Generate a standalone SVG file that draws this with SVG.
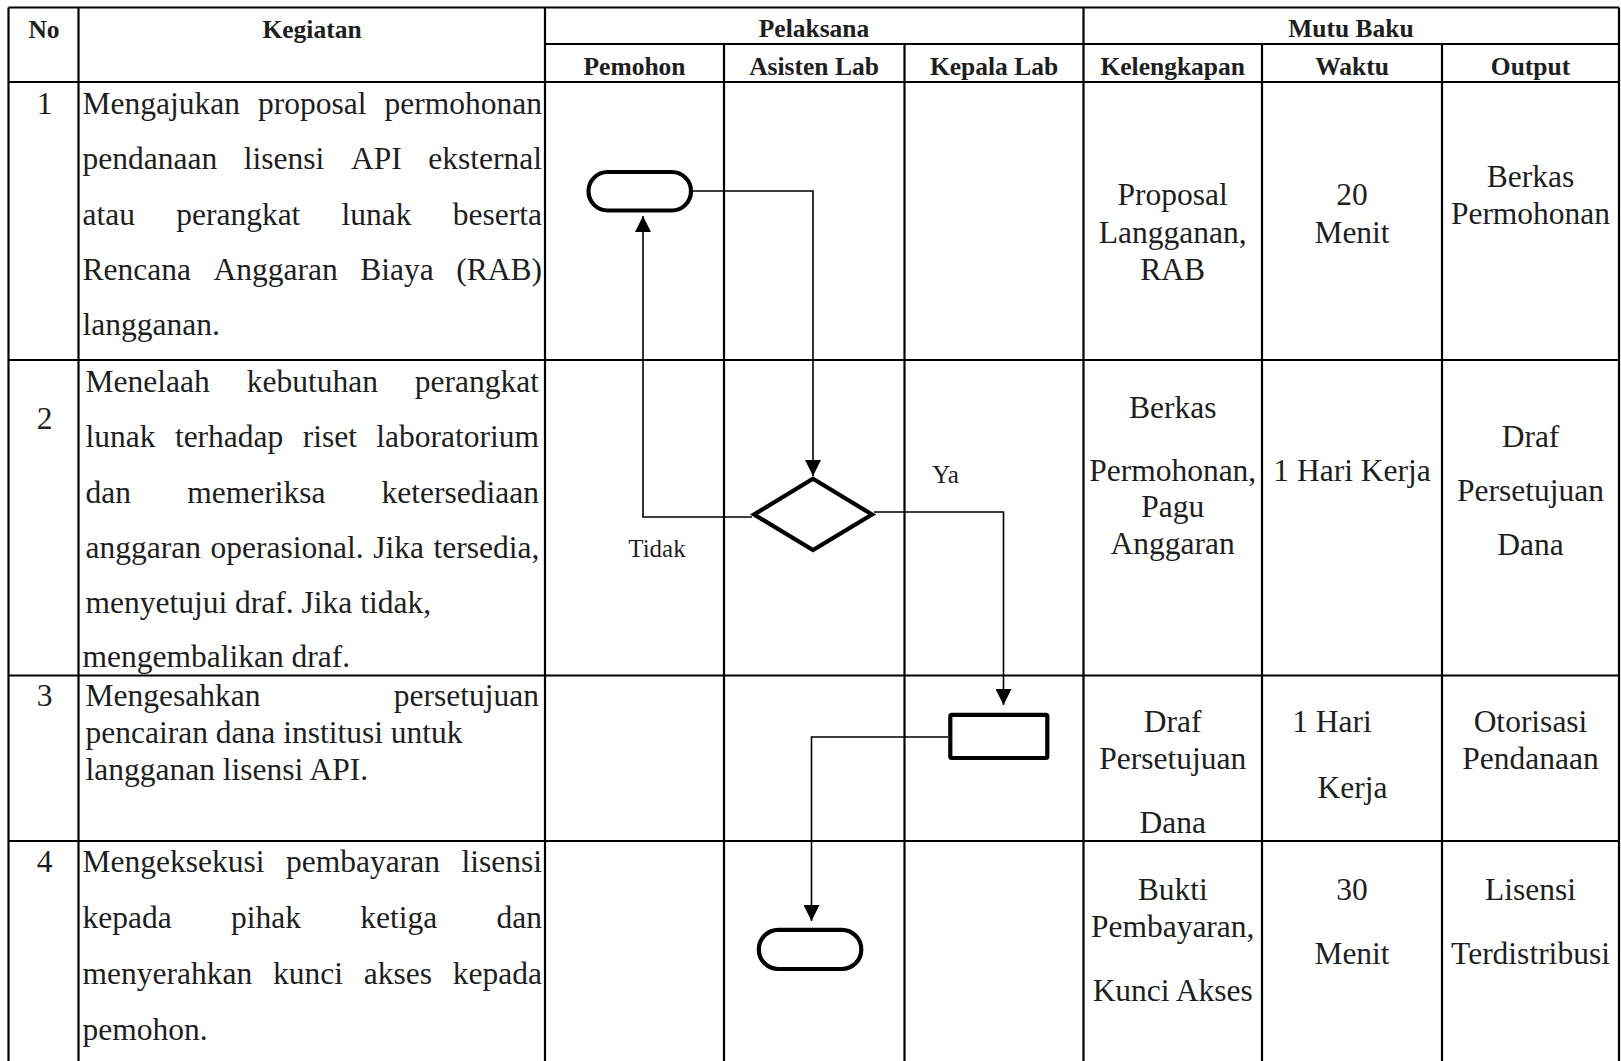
<svg xmlns="http://www.w3.org/2000/svg" width="1621" height="1061" viewBox="0 0 1621 1061">
<style>
.g{stroke:#000;stroke-width:2.2;fill:none}
.t{font-family:"Liberation Serif","Times New Roman",serif;font-size:31.5px;fill:#1e1e1e}
.h{font-family:"Liberation Serif","Times New Roman",serif;font-size:25.5px;font-weight:bold;fill:#1e1e1e;text-anchor:middle}
.m{text-anchor:middle}
.e{text-anchor:end}
.l{font-family:"Liberation Serif","Times New Roman",serif;font-size:25px;fill:#1e1e1e;text-anchor:middle}
.shape{fill:#fff;stroke:#000;stroke-width:4.2}
.conn{fill:none;stroke:#000;stroke-width:1.6}
</style>
<defs>
<marker id="ah" viewBox="0 0 16 16" refX="16" refY="8" markerWidth="16" markerHeight="16" markerUnits="userSpaceOnUse" orient="auto">
<path d="M0,0 L16,8 L0,16 z" fill="#000"/>
</marker>
</defs>
<rect width="1621" height="1061" fill="#fff"/>
<g id="table">
<line class="g" x1="8.5" y1="7.5" x2="1619" y2="7.5"/>
<line class="g" x1="545" y1="44" x2="1619" y2="44"/>
<line class="g" x1="8.5" y1="82" x2="1619" y2="82"/>
<line class="g" x1="8.5" y1="360" x2="1619" y2="360"/>
<line class="g" x1="8.5" y1="675.5" x2="1619" y2="675.5"/>
<line class="g" x1="8.5" y1="841" x2="1619" y2="841"/>
<line class="g" x1="8.5" y1="7.5" x2="8.5" y2="1061"/>
<line class="g" x1="78.5" y1="7.5" x2="78.5" y2="1061"/>
<line class="g" x1="545" y1="7.5" x2="545" y2="1061"/>
<line class="g" x1="724" y1="44" x2="724" y2="1061"/>
<line class="g" x1="904.5" y1="44" x2="904.5" y2="1061"/>
<line class="g" x1="1083.5" y1="7.5" x2="1083.5" y2="1061"/>
<line class="g" x1="1262" y1="44" x2="1262" y2="1061"/>
<line class="g" x1="1442" y1="44" x2="1442" y2="1061"/>
<line class="g" x1="1619" y1="7.5" x2="1619" y2="1061"/>
</g>
<g id="headers">
<text class="h" x="44" y="37.5">No</text>
<text class="h" x="312" y="37.5">Kegiatan</text>
<text class="h" x="814" y="36.5">Pelaksana</text>
<text class="h" x="1351" y="36.5">Mutu Baku</text>
<text class="h" x="634.5" y="74.5">Pemohon</text>
<text class="h" x="814" y="74.5">Asisten Lab</text>
<text class="h" x="994" y="74.5">Kepala Lab</text>
<text class="h" x="1172.7" y="74.5">Kelengkapan</text>
<text class="h" x="1352" y="74.5">Waktu</text>
<text class="h" x="1530.5" y="74.5">Output</text>
</g>
<g id="row1">
<text class="t m" x="44.5" y="114">1</text>
<text class="t" x="82.5" y="114">Mengajukan</text>
<text class="t" x="258" y="114">proposal</text>
<text class="t e" x="542" y="114">permohonan</text>
<text class="t" x="82.5" y="169">pendanaan</text>
<text class="t" x="243.8" y="169">lisensi</text>
<text class="t" x="350.9" y="169">API</text>
<text class="t e" x="542" y="169">eksternal</text>
<text class="t" x="82.5" y="224.5">atau</text>
<text class="t" x="176.2" y="224.5">perangkat</text>
<text class="t" x="341.6" y="224.5">lunak</text>
<text class="t e" x="542" y="224.5">beserta</text>
<text class="t" x="82.5" y="280">Rencana</text>
<text class="t" x="213.5" y="280">Anggaran</text>
<text class="t" x="360.2" y="280">Biaya</text>
<text class="t e" x="542" y="280">(RAB)</text>
<text class="t" x="82.5" y="335">langganan.</text>
<text class="t m" x="1172.7" y="205">Proposal</text>
<text class="t m" x="1172.7" y="242.5">Langganan,</text>
<text class="t m" x="1172.7" y="279.5">RAB</text>
<text class="t m" x="1352" y="205">20</text>
<text class="t m" x="1352" y="242.5">Menit</text>
<text class="t m" x="1530.5" y="187">Berkas</text>
<text class="t m" x="1530.5" y="224">Permohonan</text>
</g>
<g id="row2">
<text class="t m" x="44.5" y="428.5">2</text>
<text class="t" x="85.5" y="392">Menelaah</text>
<text class="t" x="246.7" y="392">kebutuhan</text>
<text class="t e" x="539" y="392">perangkat</text>
<text class="t" x="85.5" y="447">lunak</text>
<text class="t" x="174.9" y="447">terhadap</text>
<text class="t" x="302.8" y="447">riset</text>
<text class="t e" x="539" y="447">laboratorium</text>
<text class="t" x="85.5" y="502.5">dan</text>
<text class="t" x="187.2" y="502.5">memeriksa</text>
<text class="t e" x="539" y="502.5">ketersediaan</text>
<text class="t" x="85.5" y="557.5" style="word-spacing:1.7px">anggaran operasional. Jika tersedia,</text>
<text class="t" x="85.5" y="612.5">menyetujui draf. Jika tidak,</text>
<text class="t" x="82.5" y="667">mengembalikan draf.</text>
<text class="t m" x="1172.7" y="418">Berkas</text>
<text class="t m" x="1172.7" y="481">Permohonan,</text>
<text class="t m" x="1172.7" y="516.5">Pagu</text>
<text class="t m" x="1172.7" y="554">Anggaran</text>
<text class="t m" x="1352" y="481">1 Hari Kerja</text>
<text class="t m" x="1530.5" y="446.5">Draf</text>
<text class="t m" x="1530.5" y="501">Persetujuan</text>
<text class="t m" x="1530.5" y="555">Dana</text>
</g>
<g id="row3">
<text class="t m" x="44.5" y="706">3</text>
<text class="t" x="85.5" y="706">Mengesahkan</text>
<text class="t e" x="539" y="706">persetujuan</text>
<text class="t" x="85.5" y="742.5">pencairan dana institusi untuk</text>
<text class="t" x="85.5" y="779.5">langganan lisensi API.</text>
<text class="t m" x="1172.7" y="732">Draf</text>
<text class="t m" x="1172.7" y="769">Persetujuan</text>
<text class="t m" x="1172.7" y="833">Dana</text>
<text class="t m" x="1332" y="732">1 Hari</text>
<text class="t m" x="1352.5" y="797.5">Kerja</text>
<text class="t m" x="1530.5" y="732">Otorisasi</text>
<text class="t m" x="1530.5" y="769">Pendanaan</text>
</g>
<g id="row4">
<text class="t m" x="44.5" y="871.5">4</text>
<text class="t" x="82.5" y="871.5">Mengeksekusi</text>
<text class="t" x="286" y="871.5">pembayaran</text>
<text class="t e" x="542" y="871.5">lisensi</text>
<text class="t" x="82.5" y="927.5">kepada</text>
<text class="t" x="231" y="927.5">pihak</text>
<text class="t" x="360.3" y="927.5">ketiga</text>
<text class="t e" x="542" y="927.5">dan</text>
<text class="t" x="82.5" y="983.5">menyerahkan</text>
<text class="t" x="273" y="983.5">kunci</text>
<text class="t" x="363.8" y="983.5">akses</text>
<text class="t e" x="542" y="983.5">kepada</text>
<text class="t" x="82.5" y="1039.5">pemohon.</text>
<text class="t m" x="1172.7" y="899.5">Bukti</text>
<text class="t m" x="1172.7" y="936.5">Pembayaran,</text>
<text class="t m" x="1172.7" y="1000.5">Kunci Akses</text>
<text class="t m" x="1352" y="899.5">30</text>
<text class="t m" x="1352" y="963.5">Menit</text>
<text class="t m" x="1530.5" y="899.5">Lisensi</text>
<text class="t m" x="1530.5" y="963.5">Terdistribusi</text>
</g>
<g id="connectors">
<polyline class="conn" points="693,191 813,191 813,476" marker-end="url(#ah)"/>
<polyline class="conn" points="752,517 643,517 643,216" marker-end="url(#ah)"/>
<polyline class="conn" points="874,512 1003.5,512 1003.5,705" marker-end="url(#ah)"/>
<polyline class="conn" points="948,737 811.5,737 811.5,921" marker-end="url(#ah)"/>
<text class="l" x="945.5" y="483">Ya</text>
<text class="l" x="657" y="557">Tidak</text>
</g>
<g id="node-start">
<rect class="shape" x="588.5" y="172" width="102.5" height="38.5" rx="19.2"/>
</g>
<g id="node-decision">
<polygon class="shape" points="813,478.8 872,514.5 813,550 754,514.5"/>
</g>
<g id="node-approve">
<rect class="shape" x="950.3" y="714.8" width="97" height="43.2" rx="1.5"/>
</g>
<g id="node-end">
<rect class="shape" x="758.8" y="929.8" width="102.5" height="39.2" rx="19.6"/>
</g>
</svg>
